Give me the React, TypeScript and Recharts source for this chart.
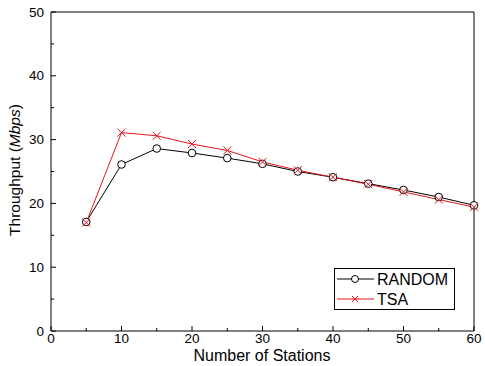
import React from 'react'
import { LineChart, Line, XAxis, YAxis, Customized } from 'recharts'

const stations = [5, 10, 15, 20, 25, 30, 35, 40, 45, 50, 55, 60]
const randomThroughput = [17.1, 26.1, 28.6, 27.9, 27.1, 26.2, 25.0, 24.1, 23.1, 22.1, 21.0, 19.7]
const tsaThroughput = [17.0, 31.1, 30.6, 29.3, 28.3, 26.5, 25.2, 24.1, 23.0, 21.8, 20.6, 19.4]
const xTicks = [0, 5, 10, 15, 20, 25, 30, 35, 40, 45, 50, 55, 60]
const yTicks = [0, 5, 10, 15, 20, 25, 30, 35, 40, 45, 50]

const data = stations.map((s, i) => ({ s, random: randomThroughput[i], tsa: tsaThroughput[i] }))

const FONT = '"Liberation Sans", Arial, sans-serif'
const RED = '#e8141c'

const XTick = (props: any) => {
  const { x, y, payload } = props
  const major = payload.value % 10 === 0
  return (
    <g>
      <line x1={x} y1={y} x2={x} y2={y - (major ? 5 : 3)} stroke="#000" />
      {major && (
        <text x={x} y={y + 12} textAnchor="middle" fontSize={13.5} fontFamily={FONT} fill="#000">
          {payload.value}
        </text>
      )}
    </g>
  )
}

const YTick = (props: any) => {
  const { x, y, payload } = props
  const major = payload.value % 10 === 0
  return (
    <g>
      <line x1={x} y1={y} x2={x + (major ? 5 : 3)} y2={y} stroke="#000" />
      {major && (
        <text x={x - 7} y={y + 4.5} textAnchor="end" fontSize={13.5} fontFamily={FONT} fill="#000">
          {payload.value}
        </text>
      )}
    </g>
  )
}

const Cross = (props: any) => {
  const { cx, cy, index } = props
  const r = 4
  return (
    <g key={'x' + index}>
      <line x1={cx - r} y1={cy - r} x2={cx + r} y2={cy + r} stroke={RED} />
      <line x1={cx - r} y1={cy + r} x2={cx + r} y2={cy - r} stroke={RED} />
    </g>
  )
}

const Overlay = () => (
  <g>
    <g transform="translate(334,268)">
      <rect x={0.5} y={0.5} width={120} height={41} fill="#fff" stroke="#000" />
      <line x1={3} y1={11} x2={40} y2={11} stroke="#000" />
      <circle cx={21} cy={11} r={3.5} fill="#fff" stroke="#000" />
      <text x={43} y={16.5} fontSize={16} fontFamily={FONT} fill="#000">RANDOM</text>
      <line x1={3} y1={31} x2={40} y2={31} stroke={RED} />
      <line x1={18} y1={28} x2={24} y2={34} stroke={RED} />
      <line x1={18} y1={34} x2={24} y2={28} stroke={RED} />
      <text x={43} y={36.5} fontSize={16} fontFamily={FONT} fill="#000">TSA</text>
    </g>
    <text x={262} y={361} textAnchor="middle" fontSize={16} fontFamily={FONT} fill="#000">
      Number of Stations
    </text>
    <text transform="translate(20,170) rotate(-90)" textAnchor="middle" fontSize={15.5} fontFamily={FONT} fill="#000">
      Throughput (<tspan fontStyle="italic">Mbps</tspan>)
    </text>
  </g>
)

export default function App() {
  return (
    <div style={{ position: 'absolute', left: 0, top: 0, background: '#fff' }}>
      <LineChart width={485} height={366} data={data} margin={{ top: 11, right: 10, bottom: 34, left: 50 }}>
        <XAxis dataKey="s" type="number" domain={[0, 60]} ticks={xTicks} interval={0} height={1}
          tickSize={0} tickMargin={0} tickLine={false} axisLine={{ stroke: '#000' }} tick={<XTick />} />
        <XAxis xAxisId="top" orientation="top" type="number" domain={[0, 60]} height={1} tick={false} tickLine={false} axisLine={{ stroke: '#000' }} />
        <YAxis type="number" domain={[0, 50]} ticks={yTicks} interval={0} width={1}
          tickSize={0} tickMargin={0} tickLine={false} axisLine={{ stroke: '#000' }} tick={<YTick />} />
        <YAxis yAxisId="right" orientation="right" type="number" domain={[0, 50]} width={1} tick={false} tickLine={false} axisLine={{ stroke: '#000' }} />
        <Line dataKey="random" stroke="#000" strokeWidth={1} isAnimationActive={false}
          dot={{ r: 3.8, fill: '#fff', stroke: '#000', strokeWidth: 1 }} />
        <Line dataKey="tsa" stroke={RED} strokeWidth={1} isAnimationActive={false} dot={<Cross />} />
        <Customized component={<Overlay />} />
      </LineChart>
    </div>
  )
}
